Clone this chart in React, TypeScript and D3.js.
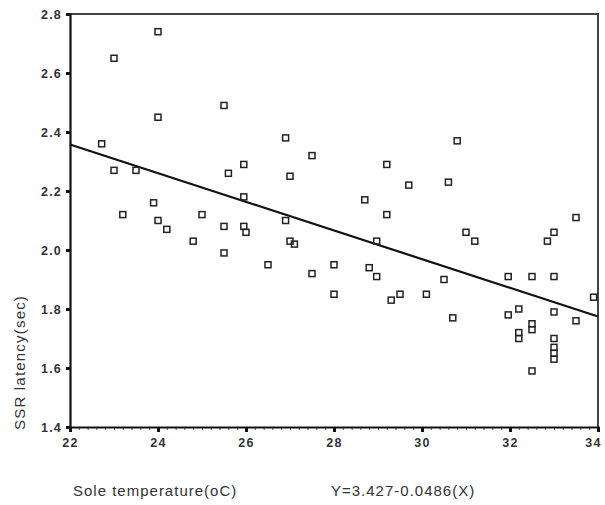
import { useEffect, useRef } from 'react'
import * as d3 from 'd3'

// Sole temperature (oC)
const temps = [
  22.72, 23.0, 23.0, 23.2, 23.5, 23.9, 24.0, 24.0, 24.0, 24.2, 24.8, 25.0, 25.5, 25.5, 25.5, 25.6,
  25.95, 25.95, 25.95, 26.0, 26.5, 26.9, 26.9, 27.0, 27.0, 27.1, 27.5, 27.5, 28.0, 28.0, 28.7,
  28.8, 28.97, 28.97, 29.2, 29.2, 29.3, 29.5, 29.7, 30.1, 30.5, 30.6, 30.7, 30.8, 31.0, 31.2,
  31.96, 31.96, 32.2, 32.2, 32.2, 32.5, 32.5, 32.5, 32.5, 32.85, 33.0, 33.0, 33.0, 33.0, 33.0,
  33.0, 33.0, 33.5, 33.5, 33.9,
]

// SSR latency (sec)
const latencies = [
  2.36, 2.65, 2.27, 2.12, 2.27, 2.16, 2.74, 2.45, 2.1, 2.07, 2.03, 2.12, 2.49, 2.08, 1.99, 2.26,
  2.29, 2.18, 2.08, 2.06, 1.95, 2.38, 2.1, 2.25, 2.03, 2.02, 2.32, 1.92, 1.95, 1.85, 2.17,
  1.94, 2.03, 1.91, 2.29, 2.12, 1.83, 1.85, 2.22, 1.85, 1.9, 2.23, 1.77, 2.37, 2.06, 2.03,
  1.91, 1.78, 1.8, 1.72, 1.7, 1.91, 1.75, 1.73, 1.59, 2.03, 2.06, 1.91, 1.79, 1.7, 1.67,
  1.65, 1.63, 2.11, 1.76, 1.84,
]

const xTicks = [22, 24, 26, 28, 30, 32, 34]
const yTicks = [1.4, 1.6, 1.8, 2.0, 2.2, 2.4, 2.6, 2.8]

// fit: Y = 3.427 - 0.0486 X
const intercept = 3.427
const slope = -0.0486

export default function App() {
  const svgRef = useRef<SVGSVGElement | null>(null)

  useEffect(() => {
    if (!svgRef.current) return
    const width = 605
    const height = 505
    const margin = { top: 14, right: 7, bottom: 78, left: 70 }

    const svg = d3.select(svgRef.current)
    svg.selectAll('*').remove()

    const x = d3.scaleLinear().domain([22, 34]).range([margin.left, width - margin.right])
    const y = d3.scaleLinear().domain([1.4, 2.8]).range([height - margin.bottom, margin.top])

    svg.append('rect').attr('width', width).attr('height', height).attr('fill', '#fff')

    // frame top + right
    svg
      .append('path')
      .attr('d', `M${x(22)},${y(2.8)}H${x(34)}V${y(1.4)}`)
      .attr('fill', 'none')
      .attr('stroke', '#444')
      .attr('stroke-width', 2)

    const minor = d3.range(22, 34.001, 0.2)
    svg
      .append('g')
      .attr('transform', `translate(0,${y(1.4)})`)
      .call(d3.axisBottom(x).tickValues(minor).tickSize(3).tickFormat(() => ''))
      .call((g) => g.select('.domain').remove())
      .call((g) => g.selectAll('line').attr('stroke', '#555').attr('stroke-width', 1))

    const fmt = d3.format('.1f')
    svg
      .append('g')
      .attr('transform', `translate(0,${y(1.4)})`)
      .call(d3.axisBottom(x).tickValues(xTicks).tickSize(5).tickPadding(6).tickFormat(d3.format('d')))
      .call((g) => g.select('.domain').attr('stroke', '#111').attr('stroke-width', 2.2))
      .call((g) => g.selectAll('.tick line').attr('stroke', '#111').attr('stroke-width', 3))
      .call((g) =>
        g
          .selectAll('text')
          .attr('fill', '#333')
          .attr('font-size', 12.5)
          .attr('font-weight', 'bold')
          .attr('letter-spacing', 1.2)
          .attr('font-family', 'Liberation Sans, Arial, sans-serif')
          .attr('dx', (d) => ((d as number) === 34 ? -5 : 0)),
      )

    svg
      .append('g')
      .attr('transform', `translate(${x(22)},0)`)
      .call(d3.axisLeft(y).tickValues(yTicks).tickSize(4).tickPadding(4).tickFormat((d) => fmt(d as number)))
      .call((g) => g.select('.domain').attr('stroke', '#111').attr('stroke-width', 2.2))
      .call((g) => g.selectAll('.tick line').attr('stroke', '#111').attr('stroke-width', 3))
      .call((g) =>
        g
          .selectAll('text')
          .attr('fill', '#333')
          .attr('font-size', 12.5)
          .attr('font-weight', 'bold')
          .attr('letter-spacing', 1.2)
          .attr('font-family', 'Liberation Sans, Arial, sans-serif'),
      )

    // regression line
    const fit = [22, 34].map((t) => ({ t, v: intercept + slope * t }))
    svg
      .append('path')
      .datum(fit)
      .attr('fill', 'none')
      .attr('stroke', '#111')
      .attr('stroke-width', 2.2)
      .attr(
        'd',
        d3
          .line<{ t: number; v: number }>()
          .x((d) => x(d.t))
          .y((d) => y(d.v)),
      )

    const pts = temps.map((t, i) => ({ t, v: latencies[i] }))
    const s = 6
    svg
      .append('g')
      .selectAll('rect')
      .data(pts)
      .join('rect')
      .attr('x', (d) => x(d.t) - s / 2)
      .attr('y', (d) => y(d.v) - s / 2)
      .attr('width', s)
      .attr('height', s)
      .attr('fill', 'none')
      .attr('stroke', '#222')
      .attr('stroke-width', 1.5)

    svg
      .append('text')
      .attr('transform', `translate(25,${y(1.4) + 3}) rotate(-90)`)
      .attr('font-size', 15)
      .attr('letter-spacing', 1.2)
      .attr('fill', '#333')
      .attr('font-family', 'Liberation Sans, Arial, sans-serif')
      .text('SSR latency(sec)')

    svg
      .append('text')
      .attr('x', 73)
      .attr('y', 496)
      .attr('font-size', 15)
      .attr('letter-spacing', 1)
      .attr('fill', '#333')
      .attr('font-family', 'Liberation Sans, Arial, sans-serif')
      .text('Sole temperature(oC)')

    svg
      .append('text')
      .attr('x', 331)
      .attr('y', 496)
      .attr('font-size', 15)
      .attr('letter-spacing', 1)
      .attr('fill', '#333')
      .attr('font-family', 'Liberation Sans, Arial, sans-serif')
      .text('Y=3.427-0.0486(X)')
  }, [])

  return (
    <div style={{ position: 'absolute', left: 0, top: 0 }}>
      <svg ref={svgRef} width={605} height={505} style={{ display: 'block' }} />
    </div>
  )
}
